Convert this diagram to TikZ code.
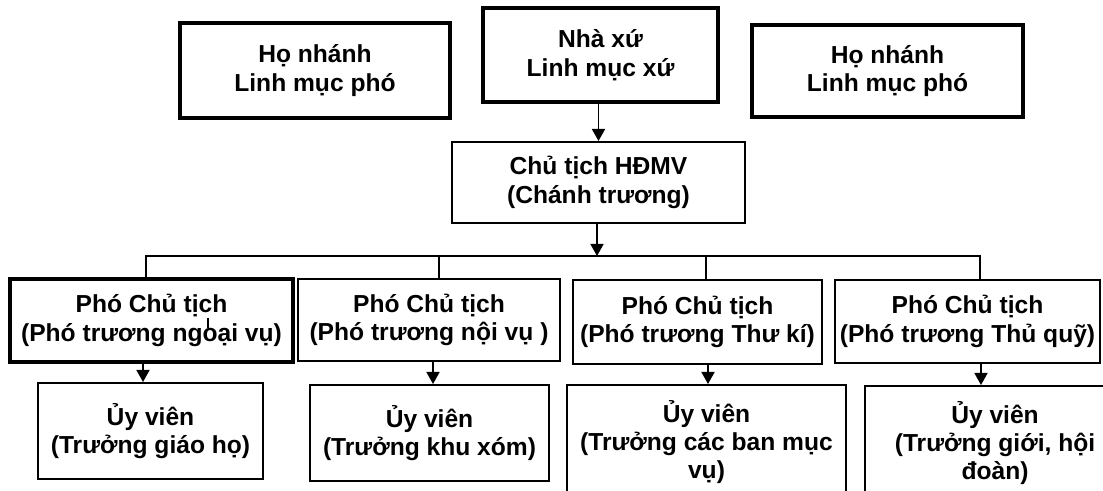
\documentclass[tikz,border=0pt]{standalone}
\usepackage{fontspec}
\setmainfont{Liberation Sans}
\usetikzlibrary{arrows.meta}

\begin{document}
\begin{tikzpicture}[x=0.5pt, y=-0.5pt,
		box/.style={draw, line width=1pt, align=center, inner sep=2pt, font=\fontsize{12.3}{14.2}\selectfont\bfseries},
		thickbox/.style={box, line width=2pt},
		link/.style={line width=0.8pt},
		arr/.style={link, -{Triangle[length=6pt, width=6.5pt]}}]
				\clip (0,0) rectangle (1103,491);
				\node[thickbox, minimum width=135pt, minimum height=47.5pt] (hnl) at (315,70.5) {Họ nhánh\\Linh mục phó};
				\node[thickbox, minimum width=117.5pt, minimum height=47pt] (nx) at (600.5,55) {Nhà xứ\\Linh mục xứ};
				\node[thickbox, minimum width=135.5pt, minimum height=46pt] (hnr) at (887.5,71) {Họ nhánh\\Linh mục phó};
				\node[box, minimum width=146.5pt, minimum height=40.5pt] (ct) at (598.5,182.5) {Chủ tịch HĐMV\\(Chánh trương)};
				\node[thickbox, minimum width=141.5pt, minimum height=41.5pt] (p1) at (151.5,320.5) {Phó Chủ tịch\\(Phó trương ngoại vụ)};
				\node[box, minimum width=131pt, minimum height=41pt] (p2) at (429,320) {Phó Chủ tịch\\(Phó trương nội vụ )};
				\node[box, minimum width=124.5pt, minimum height=42pt] (p3) at (697.5,322) {Phó Chủ tịch\\(Phó trương Thư kí)};
				\node[box, minimum width=132.5pt, minimum height=41.5pt] (p4) at (967.5,321.5) {Phó Chủ tịch\\(Phó trương Thủ quỹ)};
				\node[box, minimum width=112.5pt, minimum height=48pt] (u1) at (150.5,431) {Ủy viên\\(Trưởng giáo họ)};
				\node[box, minimum width=119.5pt, minimum height=48pt] (u2) at (429.5,433) {Ủy viên\\(Trưởng khu xóm)};
				\node[box, minimum width=139.5pt, minimum height=57pt] (u3) at (706.5,442) {Ủy viên\\(Trưởng các ban mục\\vụ)};
				\node[box, minimum width=130pt, minimum height=57pt] (u4) at (995,443) {Ủy viên\\(Trưởng giới, hội\\đoàn)};
				\coordinate (d1) at (146,256);
				\coordinate (d2) at (439,256);
				\coordinate (d3) at (706,256);
				\coordinate (d4) at (980,256);
				\draw[arr] (ct.north |- nx.south) -- (ct.north);
				\draw[arr] ([xshift=-0.75pt]ct.south) -- ([xshift=-0.75pt]ct.south |- d1);
				\draw[link] (d1 |- p1.north) -- (d1) -- (d4) -- (d4 |- p4.north);
				\draw[link] (d2) -- (d2 |- p2.north);
				\draw[link] (d3) -- (d3 |- p3.north);
				\draw[arr] ([xshift=-4.25pt]p1.south) -- ([xshift=-4.25pt]p1.south |- u1.north);
				\draw[arr] ([xshift=2pt]p2.south) -- ([xshift=2pt]p2.south |- u2.north);
				\draw[arr] ([xshift=5.25pt]p3.south) -- ([xshift=5.25pt]p3.south |- u3.north);
				\draw[arr] ([xshift=6.75pt]p4.south) -- ([xshift=6.75pt]p4.south |- u4.north);
				\draw[link] (208,318) -- (208,328);
			\end{tikzpicture}
\end{document}
